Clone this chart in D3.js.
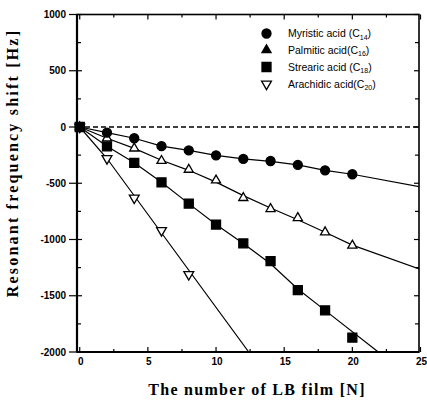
<!DOCTYPE html>
<html><head><meta charset="utf-8">
<script src="https://cdn.jsdelivr.net/npm/d3@7/dist/d3.min.js"></script>
<style>body{margin:0;background:#fff}svg{display:block}</style>
</head><body><svg id="c" width="427" height="404"></svg>
<script>
const layers = [0,2,4,6,8,10,12,14,16,18,20];
const myristic = [0,-50,-100,-170,-208,-252,-284,-302,-337,-385,-420];
const palmitic = [0,-100,-190,-300,-379,-474,-630,-728,-808,-935,-1053];
const stearic = [0,-172,-318,-492,-681,-867,-1035,-1193,-1450,-1630,-1872];
const arachidicLayers = [0,2,4,6,8];
const arachidic = [0,-280,-630,-920,-1310];
// fitted/trend lines
const myristicFitX = [0,2,4,6,8,10,12,14,16,18,20,25];
const myristicFitY = [0,-50,-100,-170,-208,-252,-284,-305,-337,-385,-420,-532];
const palmiticFitX = [0,2,4,6,8,10,12,14,16,18,20,25];
const palmiticFitY = [0,-100,-190,-295,-385,-490,-610,-720,-825,-935,-1050,-1266];
const stearicFitX = [0,2,4,6,8,10,12,14,16,18,21.9];
const stearicFitY = [0,-172,-318,-492,-681,-867,-1035,-1215,-1440,-1630,-2000];
const arachidicFitX = [0,2,12.4];
const arachidicFitY = [0,-280,-2000];
const xTicks = [0,5,10,15,20,25];
const yTicks = [1000,500,0,-500,-1000,-1500,-2000];
const legendLabels = [["Myristic acid (C","14",")"],["Palmitic acid(C","16",")"],["Strearic acid (C","18",")"],["Arachidic acid(C","20",")"]];
const xTitle = "The number of LB film [N]";
const yTitle = "Resonant frequency shift [Hz]";

const svg = d3.select("#c");
const L=77, R=419, T=14.5, B=352;
const x = d3.scaleLinear().domain([-0.2,25]).range([L,R+1.5]);
const y = d3.scaleLinear().domain([-2000,1000]).range([B,T]);

// dashed zero line
svg.append("line").attr("x1",L).attr("x2",R).attr("y1",y(0)).attr("y2",y(0))
  .attr("stroke","#000").attr("stroke-width",1.3).attr("stroke-dasharray","5,3");

// minor/major ticks
const g = svg.append("g").attr("stroke","#000").attr("stroke-width",1.2);
d3.range(-2000,1001,250).forEach(v=>{
  const maj = v%500===0;
  g.append("line").attr("x1",L).attr("x2",L+(maj?5:4)).attr("y1",y(v)).attr("y2",y(v));
  if(maj) g.append("line").attr("x1",L-8).attr("x2",L).attr("y1",y(v)).attr("y2",y(v));
  g.append("line").attr("x1",R-(maj?5:4)).attr("x2",R).attr("y1",y(v)).attr("y2",y(v));
});
d3.range(0,25.01,2.5).forEach(v=>{
  const maj = v%5===0;
  g.append("line").attr("y1",B).attr("y2",B-(maj?5:3)).attr("x1",x(v)).attr("x2",x(v));
  g.append("line").attr("y1",T).attr("y2",T+(maj?5:3)).attr("x1",x(v)).attr("x2",x(v));
});

// frame
svg.append("rect").attr("x",L).attr("y",T).attr("width",R-L).attr("height",B-T)
  .attr("fill","none").attr("stroke","#000").attr("stroke-width",1.6);
svg.append("line").attr("x1",L).attr("x2",L).attr("y1",T).attr("y2",B).attr("stroke","#000").attr("stroke-width",2.2);
svg.append("line").attr("x1",L).attr("x2",R).attr("y1",B).attr("y2",B).attr("stroke","#000").attr("stroke-width",2.2);

// tick labels
svg.append("g").selectAll("text").data(yTicks).join("text")
  .attr("x",66).attr("y",d=>y(d)+3.5).attr("text-anchor","end")
  .attr("font-family","Liberation Sans, Arial, sans-serif").attr("font-weight","bold").attr("font-size",10)
  .text(d=>d);
svg.append("g").selectAll("text").data(xTicks).join("text")
  .attr("x",d=>x(d)+1).attr("y",365).attr("text-anchor","middle")
  .attr("font-family","Liberation Sans, Arial, sans-serif").attr("font-weight","bold").attr("font-size",10)
  .text(d=>d);

// titles
svg.append("text").attr("x",257).attr("y",395).attr("text-anchor","middle")
  .attr("font-family","Liberation Serif, Times New Roman, serif").attr("font-weight","bold").attr("font-size",16)
  .attr("letter-spacing",1.3)
  .text(xTitle);
svg.append("text").attr("transform","translate(18,163) rotate(-90)").attr("text-anchor","middle")
  .attr("font-family","Liberation Serif, Times New Roman, serif").attr("font-weight","bold").attr("font-size",16)
  .attr("letter-spacing",2.2)
  .text(yTitle);

// lines
const clip = svg.append("clipPath").attr("id","pc").append("rect").attr("x",L).attr("y",T).attr("width",R-L).attr("height",B-T);
const lineGen = d3.line().x(d=>x(d[0])).y(d=>y(d[1]));
const fits = [[myristicFitX,myristicFitY],[palmiticFitX,palmiticFitY],[stearicFitX,stearicFitY],[arachidicFitX,arachidicFitY]];
fits.forEach(([fx,fy])=>{
  svg.append("path").attr("clip-path","url(#pc)").attr("d",lineGen(fx.map((v,i)=>[v,fy[i]])))
    .attr("fill","none").attr("stroke","#000").attr("stroke-width",1.2);
});

// markers
const sym = {
  circle: d3.symbol().type(d3.symbolCircle).size(64),
  square: d3.symbol().type(d3.symbolSquare).size(81),
  tri: d3.symbol().type(d3.symbolTriangle).size(36),
  dtri: d3.symbol().type(d3.symbolTriangle).size(42)
};
function drawPts(xs, ys, kind, open, rot){
  svg.append("g").selectAll("path").data(xs.map((v,i)=>[v,ys[i]])).join("path")
    .attr("transform",d=>`translate(${x(d[0])},${y(d[1])})${rot?" rotate(180)":""}`)
    .attr("d",sym[kind]())
    .attr("fill",open?"#fff":"#000").attr("stroke","#000").attr("stroke-width",1.3);
}
drawPts(arachidicLayers, arachidic, "dtri", true, true);
drawPts(layers, stearic, "square", false, false);
drawPts(layers, palmitic, "tri", true, false);
drawPts(layers, myristic, "circle", false, false);

// legend
const legY = [33.5,50,67,84];
const kinds = [["circle",false,false],["tri",false,false],["square",false,false],["dtri",true,true]];
legendLabels.forEach((lab,i)=>{
  const [k,o,r] = kinds[i];
  svg.append("path").attr("transform",`translate(266.5,${legY[i]})${r?" rotate(180)":""}`)
    .attr("d",sym[k]()).attr("fill",o?"#fff":"#000").attr("stroke","#000").attr("stroke-width",1.3);
  const t = svg.append("text").attr("x",288).attr("y",legY[i]+3.5)
    .attr("font-family","Liberation Sans, Arial, sans-serif").attr("font-size",10.5);
  t.append("tspan").text(lab[0]);
  t.append("tspan").attr("font-size",7).attr("dy",2.5).text(lab[1]);
  t.append("tspan").attr("dy",-2.5).text(lab[2]);
});
</script></body></html>
